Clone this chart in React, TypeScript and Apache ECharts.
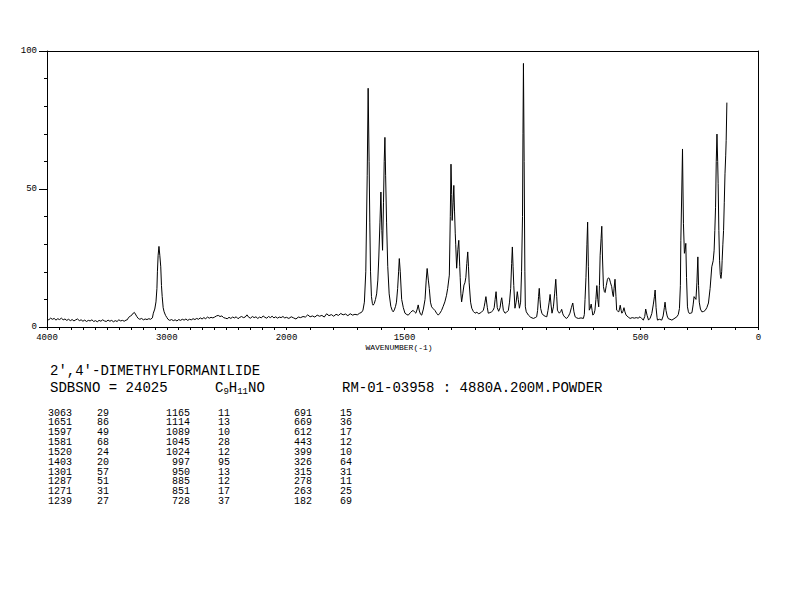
import React, { useEffect, useRef } from "react";
import * as echarts from "echarts";

// Raman spectrum, 4000-2000 cm-1 (half scale region)
const highRegion: [number, number][] = [
  [4000,3.0],[3985,2.6],[3970,3.2],[3955,2.8],[3940,3.1],[3925,2.5],[3910,3.0],[3895,2.7],[3880,3.2],[3865,2.6],
  [3850,2.9],[3835,2.4],[3820,2.8],[3805,2.3],[3790,2.7],[3775,2.2],[3760,2.6],[3745,2.9],[3730,2.3],[3715,2.6],
  [3700,2.1],[3685,2.5],[3670,2.0],[3655,2.4],[3640,2.2],[3625,2.6],[3610,2.0],[3595,2.3],[3580,1.9],[3565,2.4],
  [3550,2.1],[3535,2.6],[3520,2.2],[3505,2.0],[3490,2.5],[3475,2.1],[3460,2.4],[3445,1.9],[3430,2.3],[3415,2.0],
  [3400,2.6],[3385,2.2],[3370,2.4],[3355,2.1],[3340,2.5],[3330,2.6],[3318,3.5],[3305,3.9],[3290,4.4],[3278,5.1],
  [3271,5.3],[3262,4.7],[3250,3.8],[3238,3.1],[3225,2.8],[3210,3.1],[3195,2.6],[3180,2.9],[3165,2.7],[3150,3.0],
  [3135,2.8],[3120,3.3],[3112,5.0],[3100,6.5],[3090,9.1],[3082,14],[3078,20],[3072,26],[3065,29.2],[3058,26],
  [3050,21.8],[3044,15],[3038,11],[3030,7],[3022,5.5],[3010,4.2],[3000,3.5],[2990,2.8],[2975,2.4],[2960,2.7],
  [2945,2.3],[2930,2.6],[2915,2.2],[2900,2.7],[2885,2.4],[2870,2.8],[2855,2.5],[2840,2.9],[2825,2.4],[2810,2.8],
  [2795,2.6],[2780,3.0],[2765,2.7],[2750,3.1],[2735,2.8],[2720,3.3],[2705,2.9],[2690,3.4],[2675,3.0],[2660,3.6],
  [2645,3.2],[2630,3.5],[2615,3.3],[2600,3.6],[2585,4.0],[2570,4.2],[2555,3.8],[2540,4.0],[2525,3.4],[2510,3.2],
  [2495,3.0],[2480,3.5],[2465,3.1],[2450,3.6],[2435,3.3],[2420,3.7],[2405,3.0],[2390,3.5],[2375,3.8],[2360,3.4],
  [2345,3.6],[2330,4.4],[2315,3.5],[2300,3.2],[2285,3.8],[2270,3.4],[2255,3.7],[2240,3.1],[2225,3.6],[2210,3.3],
  [2195,4.0],[2180,3.5],[2165,3.2],[2150,3.8],[2135,3.4],[2120,3.9],[2105,3.3],[2090,3.7],[2075,3.2],[2060,3.6],
  [2045,3.4],[2030,3.8],[2015,3.3],[2000,3.5]
];

// Raman spectrum, 2000-134 cm-1 (full scale region)
const lowRegion: [number, number][] = [
  [2000,3.5],[1990,3.1],[1980,3.7],[1970,3.3],[1960,2.9],[1950,3.6],[1940,3.4],[1930,3.8],[1920,3.6],[1910,4.4],
  [1900,3.7],[1890,4.0],[1880,3.6],[1870,4.3],[1860,3.9],[1850,4.2],[1840,3.6],[1830,4.8],[1820,4.1],[1810,4.5],
  [1800,3.9],[1790,4.6],[1780,4.2],[1770,4.9],[1760,4.4],[1750,4.7],[1740,4.1],[1730,4.8],[1720,4.3],[1710,4.6],
  [1700,4.4],[1690,5.0],[1682,5.3],[1676,6.1],[1670,9],[1664,20],[1658,55],[1654,86.5],[1650,60],[1647,38],
  [1644,20],[1640,11],[1636,8.5],[1633,7.9],[1628,8.5],[1623,10],[1618,12],[1613,17],[1609,25],[1604,38],
  [1600,48.9],[1596,35],[1593,27.8],[1589,45],[1586,60],[1583,68.7],[1580,55],[1576,38],[1571,22],[1565,12],
  [1558,7.5],[1552,6],[1548,5.5],[1543,6.2],[1538,7.5],[1534,9],[1529,14],[1525,20],[1522,24.8],[1518,20],
  [1512,10],[1505,7],[1498,5],[1490,4.5],[1484,4.3],[1475,5.2],[1468,5.8],[1463,6],[1457,5.4],[1452,5],
  [1446,6.5],[1442,8],[1437,5.8],[1432,4.6],[1427,4.3],[1420,6.5],[1413,10],[1408,17],[1404,21.2],[1399,17],
  [1395,14],[1390,9],[1385,7.3],[1378,6.6],[1371,6],[1364,5],[1357,4.3],[1350,5],[1343,6],[1336,7.5],
  [1329,9.1],[1322,11.5],[1317,14],[1310,18.8],[1306,40],[1303,59],[1300,48],[1298,38.6],[1294,45],[1291,51.3],
  [1288,42],[1285,34],[1283,30],[1279,21.3],[1274,28],[1270,31.4],[1266,22],[1264,18],[1261,12],[1258,9.1],
  [1253,12],[1248,15.2],[1244,16],[1240,18],[1236,23],[1232,27.2],[1229,22],[1226,16],[1220,9],[1215,6.8],
  [1208,5.6],[1201,5],[1193,5.4],[1187,4.8],[1180,5],[1173,5.5],[1166,6],[1162,7.5],[1159,9],[1155,11],
  [1149,7],[1145,5],[1138,5.2],[1131,5.5],[1125,6],[1120,7],[1116,10],[1112,12.8],[1107,7],[1101,5.7],
  [1095,7],[1091,9.5],[1088,10.6],[1084,8],[1081,6],[1074,5],[1067,5.4],[1060,6],[1055,9],[1050,14],
  [1046,23],[1043,29],[1040,22],[1037,15],[1032,6.8],[1027,9],[1022,12.8],[1018,10],[1013,6.8],[1008,9],
  [1004,20],[1000,40],[998,70],[996,95.5],[993,60],[990,20],[988,7.3],[984,5.5],[975,4.3],[965,3.5],
  [954,3.1],[946,3.4],[940,3.7],[936,6],[932,11],[929,14],[926,10],[923,6.7],[918,5],[912,4.3],
  [904,3.9],[897,3.7],[892,6],[887,9],[883,11.8],[879,8],[875,5],[869,7.3],[864,12],[859,17.3],
  [855,11],[852,6.1],[848,5.5],[844,5],[838,5.6],[834,6.4],[830,5],[827,4.3],[820,3.5],[813,3.1],
  [806,3.8],[799,5],[793,7],[787,8.7],[782,5.5],[777,3.7],[770,3.3],[763,3.1],[752,3.3],[742,3.1],
  [738,4.5],[735,10],[731,18],[727,30],[724,38],[721,22],[717,6.1],[713,6.8],[709,8.3],[705,6],
  [702,4.3],[697,4.8],[693,6.1],[689,10],[685,15],[681,10],[677,7.3],[674,15],[671,26],[667,32],
  [664,36.5],[661,25],[657,14.6],[653,12.8],[650,12.5],[645,15],[640,17.3],[636,17.8],[632,17.6],[627,16],
  [622,14.6],[618,12],[615,11],[612,14],[608,17.3],[604,11],[601,6.1],[597,5.8],[592,5.5],[589,6.5],
  [586,7.9],[582,6],[579,5],[575,5.5],[570,7],[566,5.5],[561,4.3],[552,3.6],[544,3.1],[535,3.4],
  [526,3.2],[518,3.4],[510,3.2],[502,3.7],[494,3.0],[488,2.5],[482,3.8],[478,6.5],[472,4.2],[466,2.5],
  [459,3.2],[452,4.9],[446,8],[441,11],[438,13.4],[434,7],[430,3.5],[428,2.5],[420,2.8],[410,2.5],
  [404,4],[399,7],[396,9],[392,6],[387,4],[382,3],[375,2.8],[367,2.5],[358,3],[346,3.7],
  [340,4.5],[335,6.7],[331,15],[329,31.4],[325,50],[322,64.5],[320,50],[318,37.4],[314,26.7],[311,28],
  [308,30.3],[305,18],[301,7.3],[297,5.5],[293,4.9],[287,5],[282,5.2],[277,8],[273,11],[269,10.5],
  [265,10],[261,16],[257,25.4],[254,15],[251,9],[246,6.5],[240,5.5],[233,5.6],[226,6],[219,7],
  [212,8.7],[205,14],[198,21.8],[192,24],[188,27.8],[185,35],[182,43.4],[179,60],[176,69.9],[173,60],
  [171,51.9],[168,35],[165,24.2],[162,19],[159,17.6],[156,20],[154,24.2],[151,30],[148,35],[145,45],
  [142,55.5],[139,62],[137,67.5],[134,81.3]
];

const highTickLabels = [4000, 3000, 2000];
const lowTickLabels = [1500, 500, 0];
const yTickLabels = [0, 50, 100];

const compoundName = "2',4'-DIMETHYLFORMANILIDE";
const sdbsNumber = "SDBSNO = 24025";
const formulaParts = [
  { t: "C", sub: false },
  { t: "9", sub: true },
  { t: "H", sub: false },
  { t: "11", sub: true },
  { t: "NO", sub: false },
];
const measurementInfo = "RM-01-03958 : 4880A.200M.POWDER";
const axisTitle = "WAVENUMBER(-1)";

const peakWavenumbers = [
  "3063", "1651", "1597", "1581", "1520", "1403", "1301", "1287", "1271", "1239",
  "1165", "1114", "1089", "1045", "1024", "997", "950", "885", "851", "728",
  "691", "669", "612", "443", "399", "326", "315", "278", "263", "182",
];
const peakIntensities = [
  "29", "86", "49", "68", "24", "20", "57", "51", "31", "27",
  "11", "13", "10", "28", "12", "95", "13", "12", "17", "37",
  "15", "36", "17", "12", "10", "64", "31", "11", "25", "69",
];

const FONT = "'Liberation Mono', 'DejaVu Sans Mono', monospace";
const BLACK = "#000";

function buildOption() {
  const plotTop = 51;
  const plotHeight = 276;
  const leftX = 47;
  const splitX = 286.5;
  const rightX = 758.5;

  const line = { show: true, onZero: false, lineStyle: { color: BLACK, width: 1 } };
  const tick = { show: true, inside: false, length: 3, lineStyle: { color: BLACK, width: 1 } };
  const label = (list: number[]) => ({
    show: true,
    color: BLACK,
    fontSize: 9,
    fontFamily: FONT,
    margin: 6,
    formatter: (v: number) => (list.indexOf(v) >= 0 ? String(v) : ""),
  });

  const graphic: any[] = [];
  graphic.push({
    type: "text",
    style: { text: axisTitle, x: 399, y: 347, fontSize: 8, fontFamily: FONT, fill: BLACK, align: "center", verticalAlign: "middle" },
  });
  graphic.push({
    type: "text",
    style: { text: compoundName, x: 50, y: 371, fontSize: 14, fontFamily: FONT, fill: BLACK, align: "left", verticalAlign: "middle" },
  });
  graphic.push({
    type: "text",
    style: { text: sdbsNumber, x: 50, y: 388, fontSize: 14, fontFamily: FONT, fill: BLACK, align: "left", verticalAlign: "middle" },
  });
  let fx = 215;
  formulaParts.forEach((p) => {
    const fs = p.sub ? 9 : 14;
    graphic.push({
      type: "text",
      style: { text: p.t, x: fx, y: p.sub ? 392 : 388, fontSize: fs, fontFamily: FONT, fill: BLACK, align: "left", verticalAlign: "middle" },
    });
    fx += p.t.length * fs * 0.6;
  });
  graphic.push({
    type: "text",
    style: { text: measurementInfo, x: 342, y: 388, fontSize: 14, fontFamily: FONT, fill: BLACK, align: "left", verticalAlign: "middle" },
  });

  const numRight = [72, 190, 312];
  const valLeft = [97, 218, 340];
  peakWavenumbers.forEach((w, i) => {
    const col = Math.floor(i / 10);
    const row = i % 10;
    const y = 413 + row * 9.85;
    graphic.push({
      type: "text",
      style: { text: w, x: numRight[col], y, fontSize: 10, fontFamily: FONT, fill: BLACK, align: "right", verticalAlign: "middle" },
    });
    graphic.push({
      type: "text",
      style: { text: peakIntensities[i], x: valLeft[col], y, fontSize: 10, fontFamily: FONT, fill: BLACK, align: "left", verticalAlign: "middle" },
    });
  });

  return {
    animation: false,
    backgroundColor: "#fff",
    grid: [
      { left: leftX, top: plotTop, width: splitX - leftX, height: plotHeight, containLabel: false },
      { left: splitX, top: plotTop, width: rightX - splitX, height: plotHeight, containLabel: false },
    ],
    xAxis: [
      {
        gridIndex: 0, type: "value", min: 2000, max: 4000, interval: 100, inverse: true, position: "bottom",
        axisLine: line, axisTick: tick, axisLabel: label(highTickLabels), splitLine: { show: false },
      },
      {
        gridIndex: 1, type: "value", min: 0, max: 2000, interval: 100, inverse: true, position: "bottom",
        axisLine: line, axisTick: tick, axisLabel: label(lowTickLabels), splitLine: { show: false },
      },
      {
        gridIndex: 0, type: "value", min: 2000, max: 4000, inverse: true, position: "top",
        axisLine: line, axisTick: { show: false }, axisLabel: { show: false }, splitLine: { show: false },
      },
      {
        gridIndex: 1, type: "value", min: 0, max: 2000, inverse: true, position: "top",
        axisLine: line, axisTick: { show: false }, axisLabel: { show: false }, splitLine: { show: false },
      },
    ],
    yAxis: [
      {
        gridIndex: 0, type: "value", min: 0, max: 100, interval: 50, position: "left",
        axisLine: line,
        axisTick: { show: true, inside: false, length: 8, lineStyle: { color: BLACK, width: 1 } },
        minorTick: { show: true, splitNumber: 5, length: 3, lineStyle: { color: BLACK, width: 1 } },
        axisLabel: {
          show: true, color: BLACK, fontSize: 9, fontFamily: FONT, margin: 10,
          formatter: (v: number) => (yTickLabels.indexOf(v) >= 0 ? String(v) : ""),
        },
        splitLine: { show: false },
        minorSplitLine: { show: false },
      },
      { gridIndex: 1, type: "value", min: 0, max: 100, show: false },
      {
        gridIndex: 1, type: "value", min: 0, max: 100, position: "right",
        axisLine: line, axisTick: { show: false }, axisLabel: { show: false }, splitLine: { show: false },
      },
    ],
    series: [
      {
        type: "line", xAxisIndex: 0, yAxisIndex: 0, data: highRegion, showSymbol: false, symbol: "none",
        lineStyle: { color: BLACK, width: 1 }, silent: true,
      },
      {
        type: "line", xAxisIndex: 1, yAxisIndex: 1, data: lowRegion, showSymbol: false, symbol: "none",
        lineStyle: { color: BLACK, width: 1 }, silent: true,
      },
    ],
    graphic,
  };
}

export default function App() {
  const ref = useRef<HTMLDivElement>(null);
  useEffect(() => {
    document.body.style.margin = "0";
    if (!ref.current) return;
    const chart = echarts.init(ref.current, null, { renderer: "svg" });
    chart.setOption(buildOption() as any);
    return () => {
      chart.dispose();
    };
  }, []);
  return <div ref={ref} style={{ width: 794, height: 595, background: "#fff" }} />;
}
